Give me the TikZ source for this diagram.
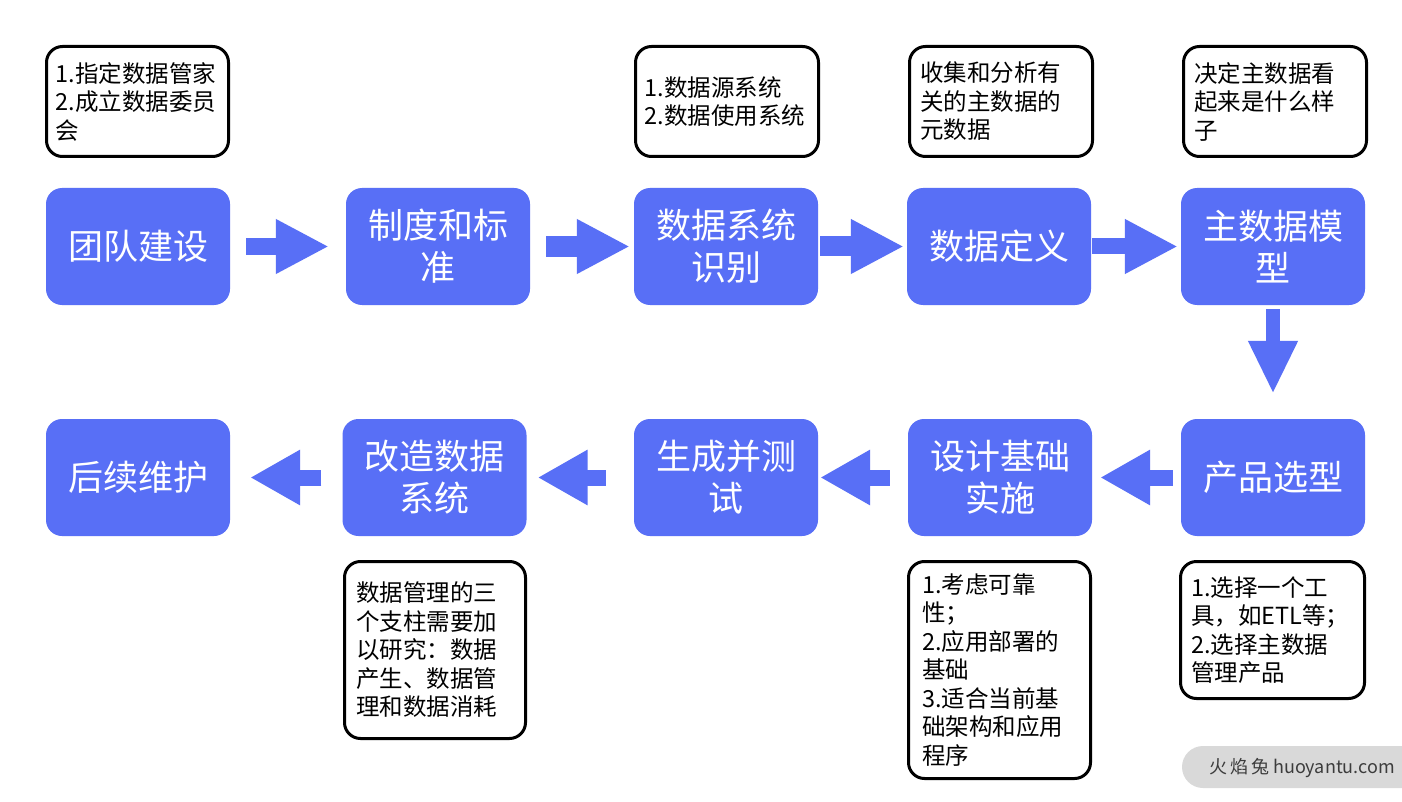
\documentclass[tikz,border=0pt]{standalone}
\usepackage{fontspec}
\setmainfont{Noto Sans CJK SC}
\usetikzlibrary{arrows.meta}
\definecolor{bluebox}{RGB}{88,111,246}
\definecolor{wmgray}{RGB}{217,217,217}
\definecolor{wmtext}{RGB}{60,60,60}
\tikzset{
  bbox/.style={fill=bluebox, rounded corners=16pt, minimum width=184pt, minimum height=117pt,
    text=white, align=center, inner sep=0pt, font=\fontsize{35}{42}\selectfont},
  wbox/.style={draw=black, line width=3pt, fill=white, rounded corners=16pt, align=left,
    inner ysep=0pt, font=\fontsize{23.5}{28.5}\selectfont},
  barrow/.style={draw=bluebox, line width=18pt, -{Triangle[length=53pt,width=51pt]}},
  darrow/.style={draw=bluebox, line width=14pt, -{Triangle[length=53pt,width=46pt]}},
  larrow/.style={draw=bluebox, line width=16pt, -{Triangle[length=50pt,width=52pt]}},
}
\begin{document}
\begin{tikzpicture}[x=1pt,y=-1pt]
\useasboundingbox[fill=white] (0,0) rectangle (1402,802);

% top row
\node[bbox] (b1) at (138,246.5) {团队建设};
\node[bbox] (b2) at (438,246.5) {制度和标\\准};
\node[bbox] (b3) at (726,246.5) {数据系统\\识别};
\node[bbox] (b4) at (999,246.5) {数据定义};
\node[bbox] (b5) at (1273,246.5) {主数据模\\型};
% bottom row
\node[bbox] (c1) at (138,477.5) {后续维护};
\node[bbox] (c2) at (434.5,477.5) {改造数据\\系统};
\node[bbox] (c3) at (726,477.5) {生成并测\\试};
\node[bbox] (c4) at (1000,477.5) {设计基础\\实施};
\node[bbox] (c5) at (1273,477.5) {产品选型};

% notes
\node[wbox, text width=164pt, inner xsep=9pt, minimum height=110pt] (w1) at (137.5,101.5)
  {1.指定数据管家\\2.成立数据委员\\会};
\node[wbox, text width=165pt, inner xsep=9pt, minimum height=110pt] (w3) at (727,101.5)
  {1.数据源系统\\2.数据使用系统};
\node[wbox, text width=162pt, inner xsep=10.5pt, minimum height=110pt] (w4) at (1001,101.5)
  {收集和分析有\\关的主数据的\\元数据};
\node[wbox, text width=162pt, inner xsep=10.5pt, minimum height=110pt] (w5) at (1275,101.5)
  {决定主数据看\\起来是什么样\\子};
\node[wbox, text width=158pt, inner xsep=11.5pt, minimum height=177pt] (wc2) at (435,650)
  {数据管理的三\\个支柱需要加\\以研究：数据\\产生、数据管\\理和数据消耗};
\node[wbox, text width=155pt, inner xsep=13.5pt, minimum height=217pt] (wc4) at (999.5,670)
  {1.考虑可靠\\性；\\2.应用部署的\\基础\\3.适合当前基\\础架构和应用\\程序};
\node[wbox, text width=163pt, inner xsep=10.5pt, minimum height=137pt] (wc5) at (1272.5,630)
  {1.选择一个工\\具，如ETL等；\\2.选择主数据\\管理产品};

% arrows top row
\draw[barrow, line width=17pt, shorten <=16pt, shorten >=17pt] (b1.east) -- (b2.west);
\draw[barrow, line width=21pt, shorten <=16pt, shorten >=4pt] (b2.east) -- (b3.west);
\draw[barrow, line width=20pt, shorten <=2pt, shorten >=3pt] (b3.east) -- (b4.west);
\draw[barrow, line width=16pt, shorten <=1pt, shorten >=3pt] (b4.east) -- (b5.west);
% down arrow
\draw[darrow, shorten <=4pt, shorten >=25pt] (b5.south) -- (c5.north);
% arrows bottom row
\draw[larrow, shorten <=8pt, shorten >=8pt] (c5.west) -- (c4.east);
\draw[larrow, shorten <=18pt, shorten >=2pt] (c4.west) -- (c3.east);
\draw[larrow, shorten <=28pt, shorten >=11pt] (c3.west) -- (c2.east);
\draw[larrow, shorten <=21pt, shorten >=20pt] (c2.west) -- (c1.east);

% watermark
\node[fill=wmgray, rounded corners=21pt, minimum width=250pt, minimum height=42pt, inner sep=0pt]
  (wm) at (1307,767) {};
\node[text=wmtext, font=\fontsize{18}{20}\selectfont, inner sep=0pt] (wmt) at (1302,768)
  {火\hspace{3pt}焰\hspace{3pt}兔\hspace{4pt}huoyantu.com};
\end{tikzpicture}
\end{document}
